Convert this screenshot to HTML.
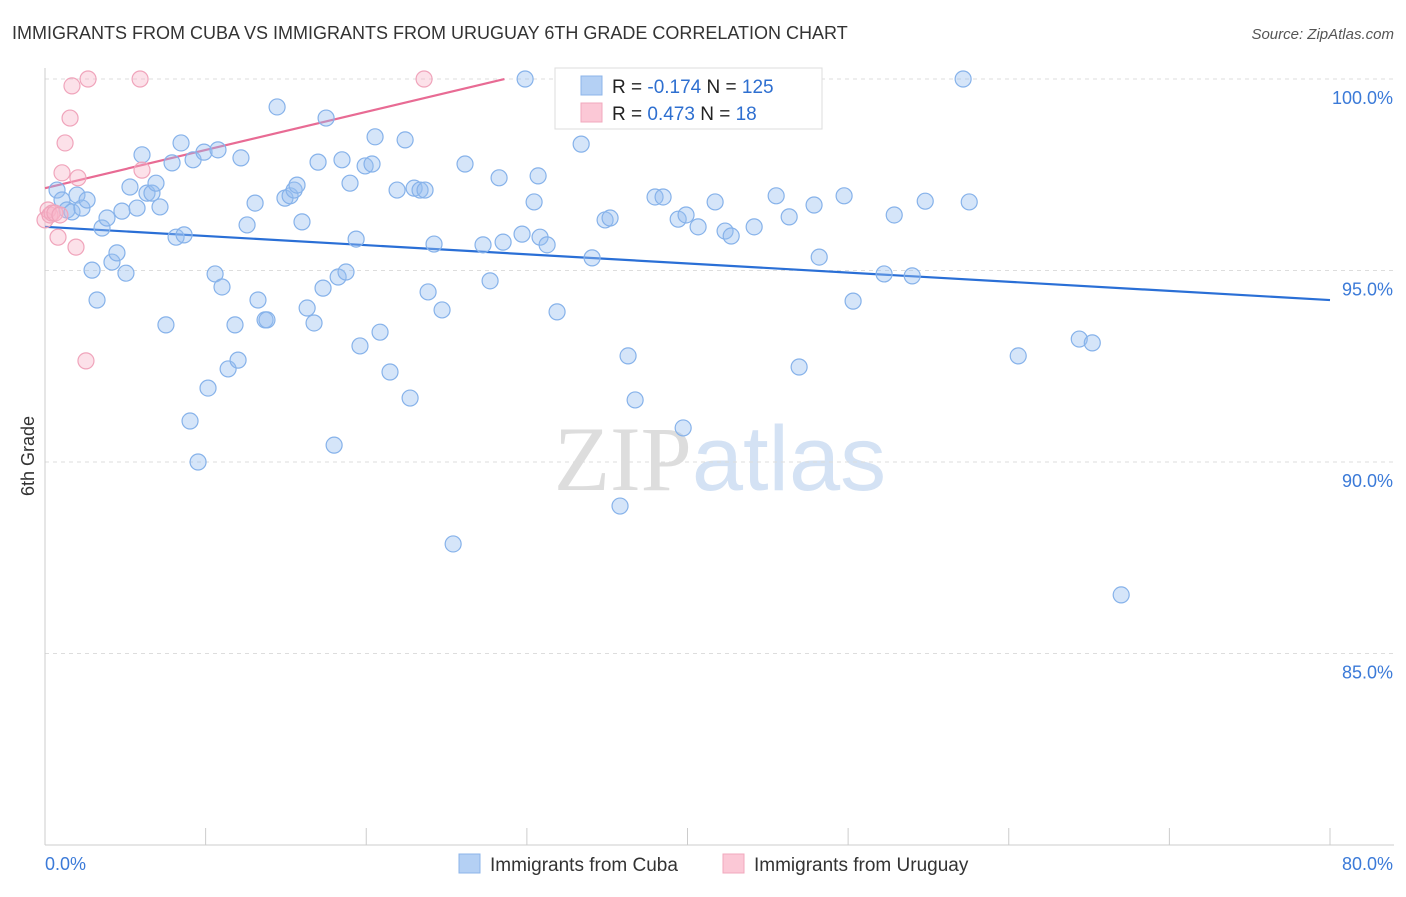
<!DOCTYPE html>
<html><head><meta charset="utf-8"><style>
body{margin:0;background:#fff;font-family:"Liberation Sans",sans-serif;}
svg text{font-family:"Liberation Sans",sans-serif;}
</style></head><body>
<svg id="chart" width="1406" height="892" xmlns="http://www.w3.org/2000/svg">
<text x="12" y="39" font-size="18" fill="#333">IMMIGRANTS FROM CUBA VS IMMIGRANTS FROM URUGUAY 6TH GRADE CORRELATION CHART</text>
<text x="1394" y="39" font-size="15" fill="#555" text-anchor="end" font-style="italic">Source: ZipAtlas.com</text>
<text x="720" y="490" font-size="92" text-anchor="middle"><tspan fill="#ddd" font-family="Liberation Serif">ZIP</tspan><tspan fill="#d4e2f4">atlas</tspan></text>
<text transform="translate(34,456) rotate(-90)" font-size="18" fill="#333" text-anchor="middle">6th Grade</text>
<g id="grid"></g><g id="axes"></g><g id="trends"></g><g id="points"></g>
<g>
<rect x="555" y="68" width="267" height="61" fill="#fff" stroke="#ddd"/>
<rect x="581" y="76" width="21" height="19" fill="#b4d0f4" stroke="#8cb4ea"/>
<rect x="581" y="103" width="21" height="19" fill="#fbc8d6" stroke="#f2a8bd"/>
<text x="612" y="93" font-size="19" fill="#222">R = <tspan fill="#2e6fd0">-0.174</tspan>   N = <tspan fill="#2e6fd0">125</tspan></text>
<text x="612" y="120" font-size="19" fill="#222">R =  <tspan fill="#2e6fd0">0.473</tspan>   N =   <tspan fill="#2e6fd0"> 18</tspan></text>
</g>
<g>
<rect x="459" y="854" width="21" height="19" fill="#b4d0f4" stroke="#8cb4ea"/>
<text x="490" y="871" font-size="19" fill="#333">Immigrants from Cuba</text>
<rect x="723" y="854" width="21" height="19" fill="#fbc8d6" stroke="#f2a8bd"/>
<text x="754" y="871" font-size="19" fill="#333">Immigrants from Uruguay</text>
</g>
</svg>
<script>
const cubaX=[0.75,1.06,1.37,1.68,1.99,2.30,2.62,2.93,3.24,3.55,3.86,4.17,4.48,4.79,5.04,5.29,5.73,6.04,6.35,6.66,6.91,7.16,7.53,7.91,8.16,8.47,8.66,9.03,9.22,9.53,9.90,10.15,10.59,10.77,11.02,11.40,11.83,12.02,12.20,12.58,13.08,13.26,13.70,13.82,14.45,14.94,15.26,15.51,15.69,16.00,16.32,16.75,17.00,17.31,17.50,18.00,18.25,18.49,18.74,18.99,19.37,19.61,19.93,20.36,20.55,20.86,21.48,21.92,22.42,22.73,22.98,23.35,23.66,23.85,24.22,24.72,25.41,26.15,27.27,27.71,28.27,28.52,29.70,29.89,30.45,30.70,30.82,31.26,31.88,33.38,34.06,34.87,35.18,35.80,36.30,36.74,37.98,38.48,39.42,39.73,39.91,40.66,41.72,42.34,42.72,44.15,45.52,46.33,46.95,47.88,48.20,49.75,50.31,52.24,52.87,53.99,54.80,57.16,57.54,60.59,64.39,65.20,67.00];
const cubaY=[97.10,96.84,96.58,96.53,96.97,96.63,96.84,95.01,94.23,96.11,96.37,95.22,95.46,96.55,94.93,97.18,96.63,98.02,97.02,97.02,97.28,96.66,93.58,97.81,95.87,98.33,95.93,91.07,97.89,90.00,98.09,91.93,94.91,98.15,94.57,92.43,93.58,92.66,97.94,96.19,96.76,94.23,93.71,93.71,99.27,96.89,96.95,97.10,97.23,96.27,94.02,93.63,97.83,94.54,98.98,90.44,94.83,97.89,94.96,97.28,95.82,93.03,97.73,97.78,98.49,93.39,92.35,97.10,98.41,91.67,97.15,97.10,97.10,94.44,95.69,93.97,87.86,97.78,95.67,94.73,97.42,95.74,95.95,100,96.79,97.47,95.87,95.67,93.92,98.30,95.33,96.32,96.37,88.85,92.77,91.62,96.92,96.92,96.34,90.89,96.45,96.14,96.79,96.03,95.90,96.14,96.95,96.40,92.48,96.71,95.35,96.95,94.20,94.91,96.45,94.86,96.81,100,96.79,92.77,93.21,93.11,86.53];
const uruX=[0,0.19,0.31,0.44,0.62,0.81,0.93,1.06,1.25,1.56,1.68,1.93,2.05,2.55,2.68,5.92,6.04,23.60];
const uruY=[96.32,96.58,96.45,96.50,96.50,95.87,96.45,97.55,98.33,98.98,99.82,95.61,97.42,92.64,100,100,97.62,100];
const yTicks=[100,95,90,85];
const yTickLabels=["100.0%","95.0%","90.0%","85.0%"];
const xTicks=[0,10,20,30,40,50,60,70,80];
const cubaTrend=[96.14,-0.0239,80];   // intercept, slope, x end
const uruTrend=[97.15,0.0996,28.6];
const NS='http://www.w3.org/2000/svg';
const sx=v=>45+v*(1285/80);
const sy=v=>79+(100-v)*38.3;
function mk(parent,tag,attrs){const e=document.createElementNS(NS,tag);for(const k in attrs)e.setAttribute(k,attrs[k]);document.getElementById(parent).appendChild(e);return e;}
yTicks.forEach((t,i)=>{
 const l=mk('grid','line',{x1:45,x2:1394,y1:sy(t),y2:sy(t),stroke:'#ddd','stroke-dasharray':'4 4'});
 
 
 const tx=mk('grid','text',{x:1393,y:sy(t)+25,'font-size':18,fill:'#3b7ad8','text-anchor':'end'});
 tx.textContent=yTickLabels[i];
 
 
});
const ax=mk('axes','line',{x1:45,x2:45,y1:68,y2:845,stroke:'#ccc'});


const bx=mk('axes','line',{x1:45,x2:1394,y1:845,y2:845,stroke:'#ccc'});


for(let v=0;v<=80;v+=10){const t=mk('axes','line',{x1:sx(v),x2:sx(v),y1:828,y2:845,stroke:'#ccc'});
 
 }
const xl0=mk('axes','text',{x:45,y:870,'font-size':18,fill:'#3b7ad8'});xl0.textContent='0.0%';


const xl1=mk('axes','text',{x:1393,y:870,'font-size':18,fill:'#3b7ad8','text-anchor':'end'});xl1.textContent='80.0%';


function trend(p,col,name){const l=mk('trends','line',{x1:sx(0),y1:sy(p[0]),x2:sx(p[2]),y2:sy(p[0]+p[1]*p[2]),stroke:col,'stroke-width':2.2});
 
 }
trend(cubaTrend,'#2a6fd6','cuba-trend-line');
trend(uruTrend,'#e86b94','uruguay-trend-line');
cubaX.forEach((x,i)=>{const c=mk('points','circle',{cx:sx(x),cy:sy(cubaY[i]),r:8,fill:'rgba(150,190,240,0.4)',stroke:'#86b2ea','stroke-width':1.2});
 
 });
uruX.forEach((x,i)=>{const c=mk('points','circle',{cx:sx(x),cy:sy(uruY[i]),r:8,fill:'rgba(248,180,200,0.4)',stroke:'#f0a4bb','stroke-width':1.2});
 
 });
</script>
</body></html>
